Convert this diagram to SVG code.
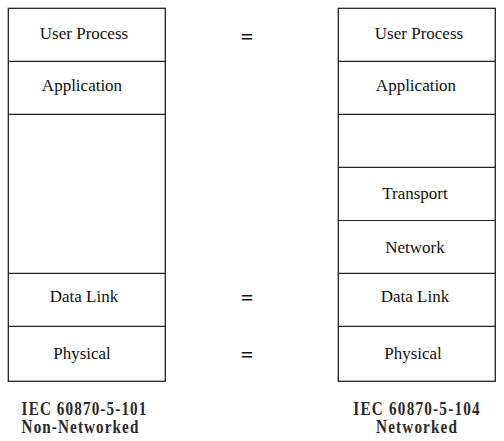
<svg xmlns="http://www.w3.org/2000/svg" width="504" height="441" viewBox="0 0 504 441">
<style>
.box{fill:#fff;stroke:#222;stroke-width:1.3}
.div{stroke:#222;stroke-width:1.2}
.lbl{font-family:"Liberation Serif","Times New Roman",serif;font-size:17px;fill:#111;text-anchor:middle}
.eq{font-family:"Liberation Serif","Times New Roman",serif;font-size:22px;font-weight:bold;fill:#111;text-anchor:middle}
.cap{font-family:"Liberation Serif","Times New Roman",serif;font-size:19px;font-weight:bold;fill:#2a2a2a;text-anchor:middle}
</style>
<rect width="504" height="441" fill="#fff"/>
<g id="stack-101">
<rect class="box" x="8.3" y="8.3" width="157" height="373"/>
<line class="div" x1="8.3" y1="61.3" x2="165.3" y2="61.3"/>
<line class="div" x1="8.3" y1="114.3" x2="165.3" y2="114.3"/>
<line class="div" x1="8.3" y1="273.3" x2="165.3" y2="273.3"/>
<line class="div" x1="8.3" y1="326.3" x2="165.3" y2="326.3"/>
<text class="lbl" x="84" y="39">User Process</text>
<text class="lbl" x="82" y="91">Application</text>
<text class="lbl" x="84" y="302">Data Link</text>
<text class="lbl" x="82" y="359">Physical</text>
</g>
<g id="stack-104">
<rect class="box" x="338.3" y="8.3" width="157" height="373"/>
<line class="div" x1="338.3" y1="61.3" x2="495.3" y2="61.3"/>
<line class="div" x1="338.3" y1="114.3" x2="495.3" y2="114.3"/>
<line class="div" x1="338.3" y1="167.3" x2="495.3" y2="167.3"/>
<line class="div" x1="338.3" y1="220.5" x2="495.3" y2="220.5"/>
<line class="div" x1="338.3" y1="273.3" x2="495.3" y2="273.3"/>
<line class="div" x1="338.3" y1="326.3" x2="495.3" y2="326.3"/>
<text class="lbl" x="419" y="39">User Process</text>
<text class="lbl" x="416" y="91">Application</text>
<text class="lbl" x="415" y="199">Transport</text>
<text class="lbl" x="415" y="253">Network</text>
<text class="lbl" x="415" y="302">Data Link</text>
<text class="lbl" x="413" y="359">Physical</text>
</g>
<g id="connectors">
<text class="eq" x="247" y="44">=</text>
<text class="eq" x="247" y="305">=</text>
<text class="eq" x="247" y="362">=</text>
</g>
<g id="caption-101">
<g transform="translate(84,415) scale(0.8,1)"><text class="cap" x="0" y="0" textLength="156" lengthAdjust="spacing">IEC 60870-5-101</text></g>
<g transform="translate(80,433.3) scale(0.8,1)"><text class="cap" x="0" y="0" textLength="146" lengthAdjust="spacing">Non-Networked</text></g>
</g>
<g id="caption-104">
<g transform="translate(416.5,415) scale(0.8,1)"><text class="cap" x="0" y="0" textLength="158" lengthAdjust="spacing">IEC 60870-5-104</text></g>
<g transform="translate(416.5,433.3) scale(0.8,1)"><text class="cap" x="0" y="0" textLength="101" lengthAdjust="spacing">Networked</text></g>
</g>
</svg>
